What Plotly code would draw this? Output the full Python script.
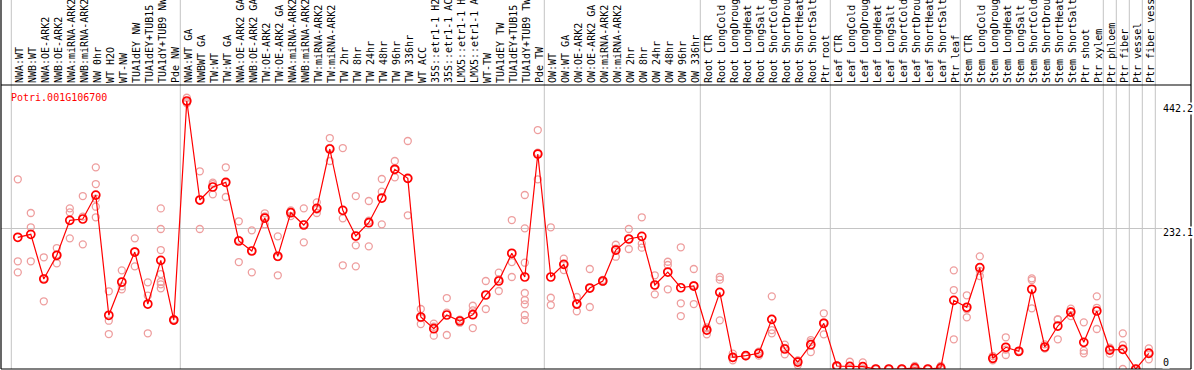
import plotly.graph_objects as go

gene = "Potri.001G106700"

labels = [
    "NWA:WT", "NWB:WT", "NWA:OE-ARK2", "NWB:OE-ARK2", "NWA:miRNA-ARK2", "NWB:miRNA-ARK2",
    "NW 0hr", "WT H2O", "WT-NW", "TUA1dEY NW", "TUA1dEY+TUB15 NW", "TUA1dY+TUB9 NW", "Pde NW",
    "NWA:WT GA", "NWBWT GA", "TW:WT", "TW:WT GA", "NWA:OE-ARK2 GA", "NWB:OE-ARK2 GA",
    "TW:OE-ARK2", "TW:OE-ARK2 GA", "NWA:miRNA-ARK2 GA", "NWB:miRNA-ARK2 GA", "TW:miRNA-ARK2",
    "TW:miRNA-ARK2", "TW 2hr", "TW 8hr", "TW 24hr", "TW 48hr", "TW 96hr", "TW 336hr", "WT ACC",
    "35S::etr1-1 H2O", "35S::etr1-1 ACC", "LMX5::etr1-1 H2O", "LMX5::etr1-1 ACC", "WT-TW",
    "TUA1dEY TW", "TUA1dEY+TUB15 TW", "TUA1dY+TUB9 TW", "Pde TW",
    "OW:WT", "OW:WT GA", "OW:OE-ARK2", "OW:OE-ARK2 GA", "OW:miRNA-ARK2", "OW:miRNA-ARK2",
    "OW 2hr", "OW 8hr", "OW 24hr", "OW 48hr", "OW 96hr", "OW 336hr",
    "Root CTR", "Root LongCold", "Root LongDrought", "Root LongHeat", "Root LongSalt",
    "Root ShortCold", "Root ShortDrought", "Root ShortHeat", "Root ShortSalt", "Ptr root",
    "Leaf CTR", "Leaf LongCold", "Leaf LongDrought", "Leaf LongHeat", "Leaf LongSalt",
    "Leaf ShortCold", "Leaf ShortDrought", "Leaf ShortHeat", "Leaf ShortSalt", "Ptr leaf",
    "Stem CTR", "Stem LongCold", "Stem LongDrought", "Stem LongHeat", "Stem LongSalt",
    "Stem ShortCold", "Stem ShortDrought", "Stem ShortHeat", "Stem ShortSalt", "Ptr shoot",
    "Ptr xylem", "Ptr phloem", "Ptr fiber", "Ptr vessel", "Ptr fiber vessel",
]

# number of samples in each separated block
group_sizes = [13, 28, 12, 10, 10, 11, 1, 1, 1, 1]

means = [
    217.3, 222.2, 148.5, 187.6, 245.3, 247.5, 287.0, 88.6, 143.5, 193.0, 107.2, 179.3, 80.8,
    442.2, 278.8, 300.3, 308.0, 211.2, 194.7, 249.1, 186.0, 257.9, 237.6, 265.1, 363.0,
    261.8, 219.4, 241.4, 282.1, 329.5, 314.6, 85.8, 66.5, 89.1, 79.2, 89.6, 122.1, 145.2,
    190.9, 151.8, 354.7,
    151.8, 172.7, 107.2, 133.6, 145.2, 196.3, 214.5, 218.9, 138.6, 160.0, 134.1, 136.9,
    64.3, 126.5, 19.2, 22.0, 25.9, 81.9, 33.0, 11.5, 40.1, 75.4,
    4.9, 4.2, 3.8, 0.0, 0.0, 0.0, 1.7, 0.0, 1.7, 113.3,
    101.8, 167.2, 17.6, 35.8, 29.2, 131.5, 36.3, 70.9, 94.0, 44.0, 95.7,
    31.3, 32.4, 0.0, 25.9,
]

replicates = [
    [313.0, 177.7, 159.5], [257.4, 233.8, 177.7], [184.3, 111.7, 149.5], [199.6, 174.4, 188.8],
    [265.1, 258.5, 215.6], [285.4, 205.7, 251.4], [332.7, 305.2, 281.0, 267.8, 250.3],
    [128.2, 79.7, 57.7], [162.8, 136.4, 131.5], [215.6, 169.4, 194.0], [143.0, 121.0, 58.9],
    [265.0, 231.0, 196.3, 156.7, 144.0, 139.7, 133.1], [82.0, 80.0, 80.5],
    [447.6, 438.4, 440.6], [326.2, 231.0, 279.0], [307.4, 288.2, 305.0], [332.8, 283.8, 307.0],
    [243.7, 176.5, 213.0], [228.8, 159.5, 195.0], [256.9, 238.7, 251.7], [218.9, 154.6, 184.5],
    [261.8, 252.4, 259.5], [265.1, 209.0, 238.7], [275.0, 257.4, 263.0], [381.1, 343.2, 364.7],
    [364.6, 248.6, 171.1], [285.4, 204.0, 169.4], [277.2, 202.4, 244.6], [313.5, 292.6, 238.7],
    [343.2, 316.3, 329.0], [376.2, 253.6, 314.0], [99.0, 74.2, 84.0], [74.8, 55.0, 69.7],
    [117.1, 92.9, 56.1], [81.4, 76.4, 80.0], [104.4, 67.6, 96.8], [145.2, 99.0, 122.0],
    [158.9, 128.7, 148.0], [245.8, 176.5, 151.8],
    [287.1, 232.1, 175.4, 125.4, 113.8, 106.7, 89.1, 80.8], [394.3, 313.0, 356.8],
    [233.8, 117.6, 105.6], [182.0, 163.3, 172.7], [118.8, 95.2, 107.6], [165.0, 102.3, 133.6],
    [147.0, 144.0, 145.0], [205.0, 185.3, 198.7], [231.0, 198.0, 214.5], [250.3, 206.8, 200.2],
    [154.6, 123.2, 138.0], [177.0, 171.6, 131.5], [200.8, 108.4, 87.4], [165.0, 107.2, 138.5],
    [68.8, 57.2, 67.0], [151.8, 147.4, 80.3], [25.3, 14.3, 18.0], [23.0, 21.0, 22.0],
    [28.6, 22.0, 27.0], [119.9, 64.3, 58.8], [40.1, 24.2, 34.7], [6.6, 14.3, 13.6],
    [47.8, 28.0, 44.5], [91.9, 57.2, 77.0],
    [6.0, 4.5, 4.2], [12.0, 0.5, 0.0], [11.0, 0.5, 0.0], [0.0, 0.0, 0.0], [0.0, 0.0, 0.0],
    [0.0, 0.0, 0.0], [5.0, 0.0, 0.0], [0.0, 0.0, 0.0], [5.0, 0.0, 0.0], [162.8, 130.3, 49.0],
    [121.6, 85.3, 98.5], [185.9, 153.4, 162.0], [21.4, 14.3, 17.0], [52.3, 23.1, 32.0],
    [30.0, 29.0, 28.5], [149.6, 146.8, 100.1], [40.7, 34.1, 34.0], [82.0, 49.0, 81.7],
    [99.5, 87.4, 95.0], [77.0, 30.2, 25.9], [119.9, 66.0, 101.0],
    [35.2, 25.3, 33.5], [58.8, 39.6, 0.0], [0.0, 0.0, 0.0], [34.1, 16.0, 27.6],
]

axis_marks = [442.2, 232.1, 0]
axis_shift = [-7, -4, 7]

xs = list(range(len(labels)))
rep_x, rep_y = [], []
for i, reps in enumerate(replicates):
    for v in reps:
        rep_x.append(i)
        rep_y.append(v)

MONO = "DejaVu Sans Mono"
RED = "#ff0000"
PINK = "#ee9e9e"
GRAY = "#c4c4c4"

fig = go.Figure()
fig.add_trace(go.Scatter(
    x=rep_x, y=rep_y, mode="markers",
    marker=dict(symbol="circle-open", size=7, color=PINK, line=dict(width=1.3, color=PINK)),
    hoverinfo="skip", showlegend=False,
))
fig.add_trace(go.Scatter(
    x=xs, y=means, mode="lines+markers",
    line=dict(color=RED, width=1.2),
    marker=dict(symbol="circle-open", size=8, color=RED, line=dict(width=1.7, color=RED)),
    showlegend=False,
))

W, H = 1194, 370
L, R, T, B = 1, 3, 85, 1
x0 = (L - 17.8) / 13.0
x1 = (W - R - 17.8) / 13.0
ymax = 468.6
top_ext = 1 + T / (H - T - B)

shapes = []
# separators between groups
bounds = [-0.5]
acc = 0
for g in group_sizes:
    acc += g
    bounds.append(acc - 0.5)
for b in bounds:
    shapes.append(dict(type="line", xref="x", yref="paper", x0=b, x1=b, y0=0, y1=top_ext,
                       line=dict(color=GRAY, width=1), layer="below"))
# frame
shapes.append(dict(type="line", xref="paper", yref="paper", x0=0, x1=1, y0=1, y1=1,
                   line=dict(color="black", width=1.2)))
shapes.append(dict(type="line", xref="paper", yref="paper", x0=0, x1=1, y0=0, y1=0,
                   line=dict(color="black", width=1.2)))
shapes.append(dict(type="line", xref="paper", yref="paper", x0=0, x1=0, y0=0, y1=top_ext,
                   line=dict(color="black", width=1.2)))
shapes.append(dict(type="line", xref="paper", yref="paper", x0=1, x1=1, y0=0, y1=top_ext,
                   line=dict(color="black", width=1.2)))

annotations = [dict(
    text=gene, xref="paper", yref="paper", x=0.0068, y=1, xanchor="left", yanchor="top",
    yshift=-5, showarrow=False, font=dict(family=MONO, size=10, color=RED),
)]
for v, s in zip(axis_marks, axis_shift):
    annotations.append(dict(
        text=str(v), xref="x", yref="y", x=(1162 - 17.8) / 13.0, y=v, xanchor="left",
        yanchor="middle", yshift=s, showarrow=False, bgcolor="white", borderpad=0,
        font=dict(family=MONO, size=10, color="black"),
    ))

fig.update_layout(
    width=W, height=H,
    margin=dict(l=L, r=R, t=T, b=B, pad=0),
    paper_bgcolor="white", plot_bgcolor="white",
    shapes=shapes, annotations=annotations,
    xaxis=dict(
        range=[x0, x1], side="top", tickmode="array", tickvals=xs, ticktext=labels,
        tickangle=-90, ticks="", showgrid=False, zeroline=False, showline=False,
        tickfont=dict(family=MONO, size=10, color="black"), automargin=False,
        ticklabelshift=2, ticklabelstandoff=1,
    ),
    yaxis=dict(
        range=[0, ymax], tickmode="array", tickvals=[232.1], showticklabels=False,
        showgrid=True, gridcolor=GRAY, gridwidth=1, zeroline=False, showline=False,
        ticks="", automargin=False,
    ),
    showlegend=False,
)

fig.write_html(
    "out.html",
    config={"displayModeBar": False},
    post_script="document.body.style.margin='0px';document.body.style.overflow='hidden';",
)
